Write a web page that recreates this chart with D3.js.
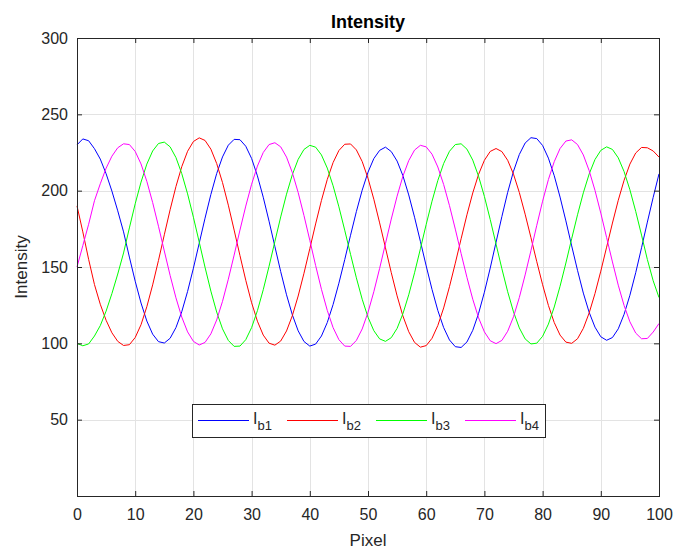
<!DOCTYPE html>
<html>
<head>
<meta charset="utf-8">
<script src="https://cdn.jsdelivr.net/npm/d3@7"></script>
<style>
  body { margin: 0; background: #ffffff; }
  svg { display: block; font-family: "Liberation Sans", Arial, Helvetica, sans-serif; }
</style>
</head>
<body>
<svg id="chart" width="675" height="550"></svg>
<script>
// Sample positions along the detector line (pixel index)
const pixels = d3.range(0, 101);

// Measured intensity for the four phase-shifted frames
const ib1 = [
  230, 233.9, 232.7, 227.5, 220.7, 211.1, 199.7, 186.8, 173.0, 156.5,
  140.7, 126.4, 114.6, 106.0, 101.1, 100.2, 103.3, 110.3, 120.7, 134.0,
  149.2, 165.6, 182.0, 197.5, 211.2, 222.1, 229.8, 233.6, 233.4, 229.1,
  221.1, 209.7, 195.7, 180.0, 163.4, 147.0, 131.8, 118.7, 108.2, 101.2,
  98.2, 99.5, 104.8, 113.6, 125.4, 139.4, 154.8, 170.8, 186.3, 200.3,
  212.1, 221.0, 226.4, 228.5, 225.6, 219.4, 209.8, 197.2, 182.6, 166.8,
  150.7, 135.3, 121.5, 110.3, 102.2, 97.8, 97.3, 100.9, 108.5, 119.6,
  133.5, 149.3, 166.2, 183.0, 198.9, 212.7, 223.7, 231.2, 234.7, 234.1,
  229.6, 221.3, 209.8, 195.8, 180.2, 163.8, 147.8, 132.9, 120.3, 110.6,
  104.3, 102.0, 103.8, 109.5, 119.0, 131.5, 146.3, 162.6, 179.4, 195.6,
  211.0
];
const ib2 = [
  190, 173, 155, 138.5, 125.6, 115.1, 106.9, 101.3, 98.6, 99.1,
  103.8, 112.2, 124.0, 138.3, 154.3, 171.1, 187.5, 202.7, 215.7, 225.8,
  232.2, 234.6, 232.9, 227.2, 217.8, 205.3, 190.5, 174.2, 157.5, 141.3,
  126.6, 114.5, 105.4, 100.1, 98.8, 101.5, 108.1, 118.1, 131.0, 145.9,
  162.0, 178.2, 193.6, 207.3, 218.4, 226.3, 230.4, 230.6, 226.7, 219.1,
  208.1, 194.4, 178.9, 162.6, 146.3, 131.1, 117.9, 107.6, 100.6, 97.5,
  98.5, 103.3, 111.7, 123.2, 137.1, 152.5, 168.5, 184.2, 198.5, 210.7,
  219.9, 225.7, 227.6, 225.6, 219.9, 210.8, 198.8, 184.6, 169.2, 153.5,
  138.4, 124.8, 113.6, 105.4, 100.8, 100.0, 103.0, 109.8, 119.9, 132.6,
  147.3, 163.0, 178.8, 193.7, 206.8, 217.4, 224.7, 228.3, 228.1, 226.0,
  222.0
];
const ib3 = [
  100, 98.4, 99.6, 104.8, 111.6, 121.1, 132.6, 145.4, 159.2, 175.6,
  191.4, 205.6, 217.4, 226.0, 230.9, 231.8, 228.7, 221.7, 211.2, 197.9,
  182.6, 166.3, 149.8, 134.2, 120.5, 109.5, 101.9, 98.0, 98.2, 102.4,
  110.3, 121.4, 135.1, 150.5, 166.7, 182.8, 197.7, 210.5, 220.5, 227.0,
  229.7, 228.5, 223.4, 214.8, 203.2, 189.4, 174.1, 158.3, 142.9, 128.9,
  117.1, 108.3, 102.9, 101.3, 103.7, 109.8, 119.4, 131.8, 146.2, 161.9,
  177.9, 193.1, 206.7, 217.8, 225.8, 230.2, 230.7, 227.2, 220.0, 209.4,
  196.2, 181.1, 165.0, 148.9, 133.8, 120.6, 110.1, 102.9, 99.6, 100.1,
  104.6, 112.6, 123.8, 137.4, 152.6, 168.6, 184.2, 198.6, 210.9, 220.4,
  226.4, 228.7, 227.0, 221.5, 212.5, 200.6, 186.4, 170.9, 154.9, 141.0,
  130.0
];
const ib4 = [
  150, 164, 178.0, 193.4, 204.5, 214.7, 222.6, 228.1, 230.7, 230.2,
  225.7, 217.5, 206.1, 192.2, 176.7, 160.5, 144.5, 129.8, 117.2, 107.5,
  101.3, 98.9, 100.6, 106.2, 115.3, 127.5, 142.0, 157.8, 174.2, 189.9,
  204.2, 216.1, 225.0, 230.2, 231.4, 228.7, 222.0, 211.8, 198.8, 183.7,
  167.5, 151.0, 135.4, 121.6, 110.3, 102.4, 98.2, 98.0, 101.9, 109.4,
  120.3, 133.8, 149.1, 165.3, 181.4, 196.4, 209.5, 219.7, 226.6, 229.7,
  228.7, 223.9, 215.5, 204.0, 190.2, 174.8, 158.8, 143.2, 128.9, 116.7,
  107.5, 101.7, 99.8, 101.9, 107.9, 117.4, 130.0, 144.8, 160.8, 177.3,
  193.1, 207.3, 219.0, 227.6, 232.5, 233.3, 230.2, 223.4, 213.1, 200.2,
  185.3, 169.3, 153.3, 138.1, 124.8, 114.1, 106.7, 103.0, 103.2, 107.4,
  113.0
];

const seriesNames = ["b1", "b2", "b3", "b4"];
const seriesValues = [ib1, ib2, ib3, ib4];
const seriesColors = ["#0000ff", "#ff0000", "#00ff00", "#ff00ff"];

const xTicks = [0, 10, 20, 30, 40, 50, 60, 70, 80, 90, 100];
const yTicks = [50, 100, 150, 200, 250, 300];

const W = 675, H = 550;
const margin = { top: 38, right: 16, bottom: 54, left: 77 };
const axisColor = "#262626";
const gridColor = "#e3e3e3";

const svg = d3.select("#chart");
svg.append("rect").attr("width", W).attr("height", H).attr("fill", "#ffffff");

const x = d3.scaleLinear().domain([0, 100]).range([margin.left, W - margin.right]);
const y = d3.scaleLinear().domain([0, 300]).range([H - margin.bottom, margin.top]);

const x0 = x.range()[0], x1 = x.range()[1];
const y0 = y.range()[0], y1 = y.range()[1];

// grid
const grid = svg.append("g").attr("stroke", gridColor).attr("stroke-width", 1);
grid.selectAll("line.gx").data(xTicks).join("line")
  .attr("x1", d => Math.round(x(d)) + 0.5).attr("x2", d => Math.round(x(d)) + 0.5)
  .attr("y1", y1).attr("y2", y0);
grid.selectAll("line.gy").data(yTicks).join("line")
  .attr("y1", d => Math.round(y(d)) + 0.5).attr("y2", d => Math.round(y(d)) + 0.5)
  .attr("x1", x0).attr("x2", x1);

// data lines
const line = d3.line().x((d, i) => x(pixels[i])).y(d => y(d));
svg.append("g").selectAll("path").data(seriesValues).join("path")
  .attr("d", d => line(d))
  .attr("fill", "none")
  .attr("stroke", (d, i) => seriesColors[i])
  .attr("stroke-width", 1)
  .attr("stroke-linejoin", "round");

// axes (MATLAB-style inward ticks on all four sides)
const tickLen = 5;
const xAxisB = d3.axisBottom(x).tickValues(xTicks).tickSizeInner(-tickLen).tickSizeOuter(0).tickPadding(13);
const yAxisL = d3.axisLeft(y).tickValues(yTicks).tickSizeInner(-tickLen).tickSizeOuter(0).tickPadding(9);
const xAxisT = d3.axisTop(x).tickValues(xTicks).tickSizeInner(-tickLen).tickSizeOuter(0).tickFormat("");
const yAxisR = d3.axisRight(y).tickValues(yTicks).tickSizeInner(-tickLen).tickSizeOuter(0).tickFormat("");

function styleAxis(g) {
  g.selectAll("path").remove();
  g.selectAll("line").attr("stroke", axisColor);
  g.selectAll("text").attr("fill", axisColor).style("font-size", "16px")
    .style("font-family", "'Liberation Sans', Arial, Helvetica, sans-serif");
}
svg.append("g").attr("transform", `translate(0,${y0})`).call(xAxisB).call(styleAxis);
svg.append("g").attr("transform", `translate(${x0},0)`).call(yAxisL).call(styleAxis);
svg.append("g").attr("transform", `translate(0,${y1})`).call(xAxisT).call(styleAxis);
svg.append("g").attr("transform", `translate(${x1},0)`).call(yAxisR).call(styleAxis);

// box
svg.append("rect")
  .attr("x", x0 + 0.5).attr("y", y1 + 0.5)
  .attr("width", x1 - x0).attr("height", y0 - y1)
  .attr("fill", "none").attr("stroke", axisColor).attr("stroke-width", 1);

// title and axis labels
svg.append("text").attr("x", (x0 + x1) / 2).attr("y", 28)
  .attr("text-anchor", "middle").attr("fill", "#000")
  .style("font-size", "18px").style("font-weight", "bold").text("Intensity");
svg.append("text").attr("x", (x0 + x1) / 2).attr("y", 546)
  .attr("text-anchor", "middle").attr("fill", axisColor)
  .style("font-size", "17px").text("Pixel");
svg.append("text")
  .attr("transform", `translate(27,${(y0 + y1) / 2}) rotate(-90)`)
  .attr("text-anchor", "middle").attr("fill", axisColor)
  .style("font-size", "17px").text("Intensity");

// legend
const legend = { x: 192, y: 404, w: 353, h: 33 };
const lg = svg.append("g");
lg.append("rect").attr("x", legend.x + 0.5).attr("y", legend.y + 0.5)
  .attr("width", legend.w).attr("height", legend.h)
  .attr("fill", "#ffffff").attr("stroke", axisColor).attr("stroke-width", 1);
const itemStep = 89;
const items = lg.selectAll("g.item").data(seriesNames).join("g")
  .attr("transform", (d, i) => `translate(${legend.x + 6 + i * itemStep},${legend.y + legend.h / 2})`);
items.append("line").attr("x1", 0).attr("x2", 51).attr("y1", 0).attr("y2", 0)
  .attr("stroke", (d, i) => seriesColors[i]).attr("stroke-width", 1);
const lt = items.append("text").attr("x", 55).attr("y", 3).attr("fill", axisColor)
  .style("font-size", "16px");
lt.append("tspan").text("I");
lt.append("tspan").attr("dy", 6).style("font-size", "13px").text(d => d);
</script>
</body>
</html>
